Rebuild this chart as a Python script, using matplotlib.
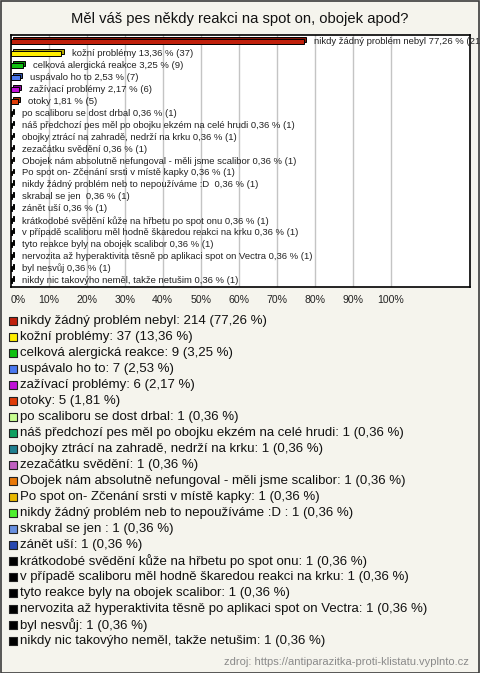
import matplotlib
matplotlib.use('Agg')
import matplotlib.pyplot as plt
from matplotlib.patches import Rectangle

plt.rcParams['font.family'] = ['Liberation Sans', 'DejaVu Sans']

title = 'Měl váš pes někdy reakci na spot on, obojek apod?'
source = 'zdroj: https://antiparazitka-proti-klistatu.vyplnto.cz'

answers = [
    'nikdy žádný problém nebyl',
    'kožní problémy',
    'celková alergická reakce',
    'uspávalo ho to',
    'zažívací problémy',
    'otoky',
    'po scaliboru se dost drbal',
    'náš předchozí pes měl po obojku ekzém na celé hrudi',
    'obojky ztrácí na zahradě, nedrží na krku',
    'zezačátku svědění',
    'Obojek nám absolutně nefungoval - měli jsme scalibor',
    'Po spot on- Zčenání srsti v místě kapky',
    'nikdy žádný problém neb to nepoužíváme :D ',
    'skrabal se jen ',
    'zánět uší',
    'krátkodobé svědění kůže na hřbetu po spot onu',
    'v případě scaliboru měl hodně škaredou reakci na krku',
    'tyto reakce byly na obojek scalibor',
    'nervozita až hyperaktivita těsně po aplikaci spot on Vectra',
    'byl nesvůj',
    'nikdy nic takovýho neměl, takže netušim',
]
counts = [214, 37, 9, 7, 6, 5, 1, 1, 1, 1, 1, 1, 1, 1, 1, 1, 1, 1, 1, 1, 1]
percents = [77.26, 13.36, 3.25, 2.53, 2.17, 1.81] + [0.36] * 15
colors = ['#c0200c', '#ffee00', '#10c010', '#4a78f0', '#c010d8', '#e03c08',
          '#c8ff90', '#10a060', '#208090', '#c060c0', '#e87808', '#e8b800',
          '#50f030', '#6890e0', '#2848b0'] + ['#000000'] * 6
xticks = [0, 10, 20, 30, 40, 50, 60, 70, 80, 90, 100]

W, H = 480, 673
fig = plt.figure(figsize=(W / 100, H / 100), dpi=100)
fig.patch.set_facecolor('#f5f4ed')

# main bar chart, box from (10.7, 35) to (470, 287) in pixels
ax = fig.add_axes([10.7 / W, 1 - 287 / H, (470 - 10.7) / W, (287 - 35) / H])
ax.set_facecolor('white')
for g in xticks[1:]:
    ax.axvline(g, color='#c4c4c4', lw=1, zorder=0)

ypos = list(range(len(answers)))
dx, dy, bh = 0.55, 0.17, 0.4


def darker(c, f=0.7):
    r, g, b = matplotlib.colors.to_rgb(c)
    return (r * f, g * f, b * f)


for y, v, c, lab, n in zip(ypos, percents, colors, answers, counts):
    ax.barh(y - dy, v, left=dx, height=bh, color=darker(c), edgecolor='black', lw=0.7, zorder=2)
    ax.barh(y, v, height=bh, color=c, edgecolor='black', lw=0.7, zorder=3)
    txt = '%s %s %% (%d)' % (lab, ('%.2f' % v).replace('.', ','), n)
    t = ax.annotate(txt, xy=(v + dx, y), xytext=(8, 0), textcoords='offset pixels',
                    va='center', ha='left', fontsize=6.8, color='#222222',
                    annotation_clip=False, zorder=4)
    t.set_clip_on(True)

ax.set_xlim(0, (470 - 10.7) / 3.8)
ax.set_ylim(len(answers) - 0.46, -0.54)
ax.set_yticks([])
ax.set_xticks(xticks)
ax.set_xticklabels(['%d%%' % t for t in xticks], fontsize=7.6, color='#222222')
ax.get_xticklabels()[0].set_ha('left')
ax.tick_params(axis='x', length=0, pad=6)
for s in ax.spines.values():
    s.set_color('black')
    s.set_linewidth(1.2)

# title, legend and source in pixel coordinates
lax = fig.add_axes([0, 0, 1, 1])
lax.set_xlim(0, W)
lax.set_ylim(H, 0)
lax.axis('off')
lax.patch.set_alpha(0)

lax.text(W / 2, 19, title, ha='center', va='center', fontsize=10.6, color='#111111')

for i, (lab, n, v, c) in enumerate(zip(answers, counts, percents, colors)):
    yy = 321 + 16 * i
    lax.scatter([13], [yy], marker='s', s=30, color=c, edgecolor='#222222', linewidth=0.8)
    lax.text(20, yy, '%s: %d (%s %%)' % (lab, n, ('%.2f' % v).replace('.', ',')),
             va='center', ha='left', fontsize=9.5, color='#111111')

lax.text(469, 662, source, ha='right', va='center', fontsize=8, color='#8a8a8a')

fig.patches.append(Rectangle((0.5 / W, 0.5 / H), 1 - 1.5 / W, 1 - 1.5 / H,
                             transform=fig.transFigure, fill=False,
                             edgecolor='#3c3c3c', lw=1.2))

fig.savefig('out.png', dpi=100, facecolor=fig.get_facecolor())
